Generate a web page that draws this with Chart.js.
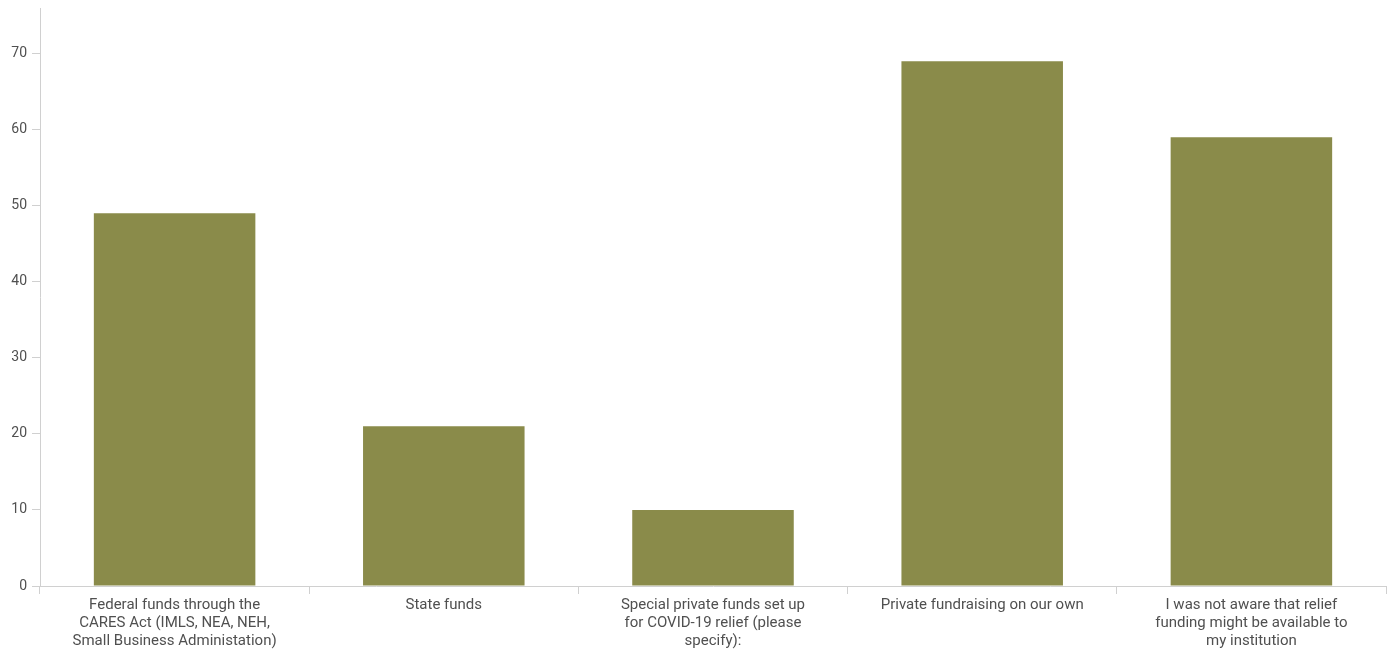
<!DOCTYPE html>
<html>
<head>
<meta charset="utf-8">
<script src="https://cdn.jsdelivr.net/npm/chart.js@4"></script>
<style>
    html, body { margin: 0; padding: 0; background: #ffffff; }
    #wrap { width: 1396px; height: 651px; }
</style>
</head>
<body>
<div id="wrap"><canvas id="fundChart" width="1396" height="651"></canvas></div>
<script>
// Funding sources (multi-line labels)
const categories = [
    ['Federal funds through the', 'CARES Act (IMLS, NEA, NEH,', 'Small Business Administation)'],
    ['State funds'],
    ['Special private funds set up', 'for COVID-19 relief (please', 'specify):'],
    ['Private fundraising on our own'],
    ['I was not aware that relief', 'funding might be available to', 'my institution']
];
const responses = [49, 21, 10, 69, 59];
const yTicks = [0, 10, 20, 30, 40, 50, 60, 70];

const barColor = '#8a8b4a';
const axisColor = '#d0d0d0';
const textColor = '#505050';

Chart.defaults.font.family = 'Roboto, "Liberation Sans", sans-serif';
Chart.defaults.color = textColor;

const ctx = document.getElementById('fundChart').getContext('2d');
new Chart(ctx, {
    type: 'bar',
    data: {
        labels: categories,
        datasets: [{
            data: responses,
            backgroundColor: barColor,
            barPercentage: 0.6,
            categoryPercentage: 1.0
        }]
    },
    options: {
        responsive: false,
        animation: false,
        layout: { padding: { top: 0, right: 10, left: 0, bottom: 0 } },
        plugins: {
            legend: { display: false },
            tooltip: { enabled: false }
        },
        scales: {
            x: {
                grid: {
                    offset: true,
                    drawOnChartArea: false,
                    color: axisColor,
                    tickLength: 8
                },
                border: { color: axisColor },
                ticks: {
                    maxRotation: 0,
                    autoSkip: false,
                    padding: 2,
                    color: textColor,
                    font: { size: 15, lineHeight: 1.2 }
                },
                afterFit: function(scale) { scale.height = 65; }
            },
            y: {
                min: 0,
                max: 76,
                afterBuildTicks: function(scale) {
                    scale.ticks = yTicks.map(v => ({ value: v }));
                },
                grid: {
                    drawOnChartArea: false,
                    color: axisColor,
                    tickLength: 8
                },
                border: { color: axisColor },
                ticks: {
                    padding: 5,
                    color: textColor,
                    font: { size: 14 }
                },
                afterFit: function(scale) {
                    scale.width = 40;
                    scale.paddingTop = 8;
                }
            }
        }
    }
});
</script>
</body>
</html>
